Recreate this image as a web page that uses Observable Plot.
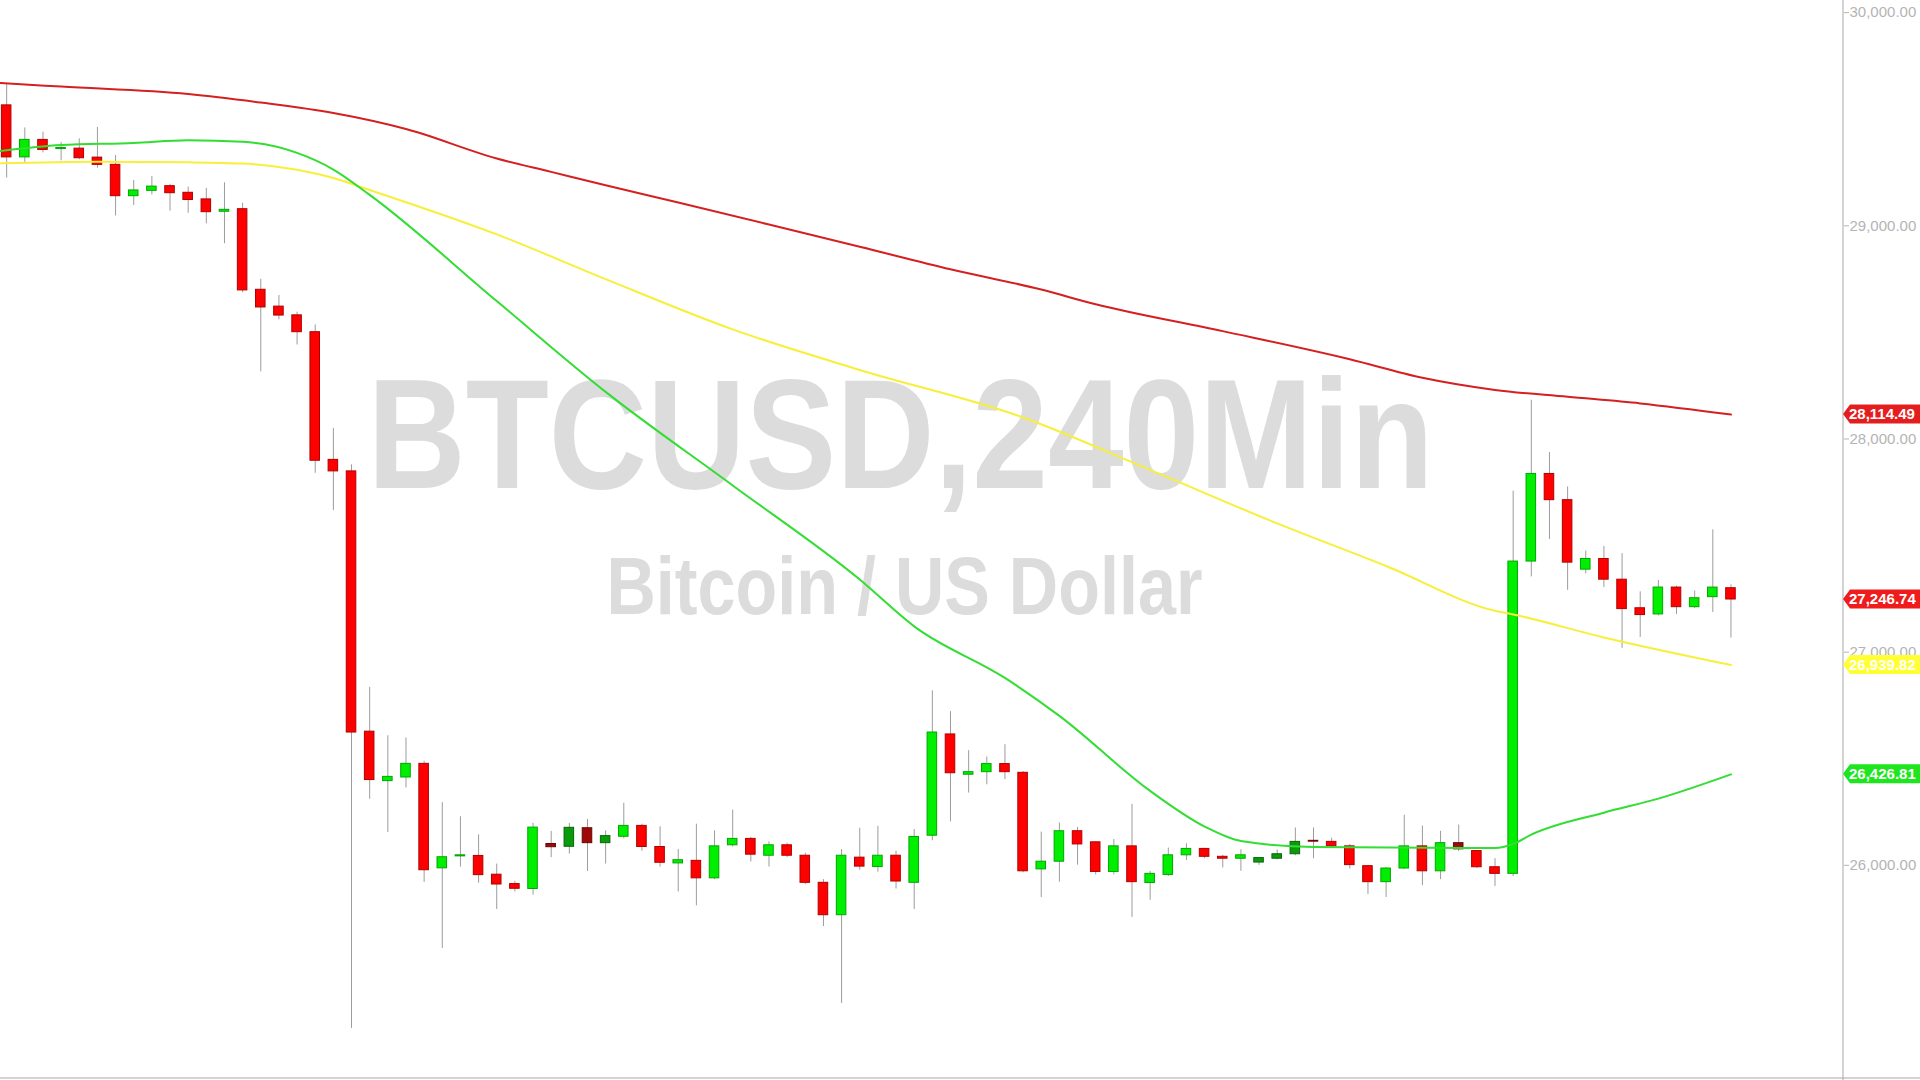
<!DOCTYPE html>
<html><head><meta charset="utf-8">
<script src="https://cdn.jsdelivr.net/npm/d3@7"></script>
<script src="https://cdn.jsdelivr.net/npm/@observablehq/plot@0.6"></script>
<style>html,body{margin:0;padding:0;background:#fff;overflow:hidden}</style>
</head><body><div id="chart"></div>
<script>
// ---- data (BTCUSD 240-minute candles) ----
const symbolTitle = "BTCUSD,240Min";
const symbolName = "Bitcoin / US Dollar";
const open  = [29565,29321,29403,29360,29362,29320,29286,29139,29164,29186,29155,29124,29066,29078,28700,28621,28580,28501,27902,27848,
               26627,26395,26412,26476,25986,26042,26044,25956,25912,25889,26100,26087,26174,26104,26134,26185,26086,26009,26021,25939,
               26094,26124,26045,26094,26045,25918,25766,26036,25992,26045,25918,26139,26614,26425,26437,26475,26434,25981,26017,26160,
               26108,25969,26089,25917,25955,26047,26077,26040,26031,26013,26031,26052,26115,26110,26089,25996,25921,25985,26089,25972,
               26104,26067,25991,25960,27425,27836,27713,27387,27437,27340,27206,27177,27303,27211,27258,27300];
const high  = [29664,29459,29439,29391,29408,29461,29330,29213,29232,29195,29182,29176,29202,29106,28749,28673,28595,28535,28050,27879,
               26835,26608,26597,26488,26294,26228,26143,26006,25925,26197,26159,26196,26215,26162,26291,26193,26181,26074,26193,26162,
               26259,26132,26110,26104,26057,25933,26074,26174,26183,26066,26168,26819,26721,26538,26508,26566,26440,26156,26199,26178,
               26110,26121,26286,25972,26081,26101,26080,26047,26073,26036,26072,26175,26175,26127,26098,26000,25990,26235,26184,26160,
               26189,26070,26031,27755,28182,27936,27775,27474,27496,27462,27283,27336,27310,27287,27574,27316];
const low   = [29224,29292,29342,29305,29310,29270,29046,29095,29145,29069,29059,29009,28916,28686,28315,28559,28441,27839,27664,25235,
               26310,26154,26363,25920,25610,25992,25916,25793,25875,25860,26036,26053,25971,26006,26124,26066,25992,25875,25810,25933,
               26086,26016,25992,26036,25910,25713,25352,25977,25968,25889,25793,26115,26204,26339,26378,26402,25965,25849,25921,26001,
               25955,25955,25756,25836,25947,26023,26031,25988,25972,26000,26025,26045,26031,26080,25983,25863,25849,25980,25905,25933,
               26065,25985,25901,25947,27353,27529,27290,27367,27303,27018,27069,27170,27177,27205,27186,27066];
const close = [29321,29403,29356,29365,29317,29286,29139,29166,29184,29153,29121,29064,29075,28697,28617,28579,28501,27898,27848,26623,
               26400,26415,26476,25977,26038,26047,25954,25910,25890,26177,26085,26176,26104,26137,26185,26086,26012,26024,25939,26089,
               26124,26050,26094,26045,25918,25766,26045,25994,26045,25924,26133,26623,26432,26437,26475,26437,25972,26017,26160,26098,
               25969,26089,25921,25960,26047,26077,26040,26031,26047,26034,26052,26110,26111,26089,26001,25921,25985,26089,25972,26104,
               26075,25991,25960,27425,27836,27713,27420,27437,27340,27202,27174,27303,27211,27253,27303,27247];
const dimBars = [30,31,32,33,69,70,71,72,80];
// moving averages: [bar index, price]
const ma200 = [[-0.34,29670],[3,29653],[10,29618],[14,29578],[18,29529],[22,29454],[27,29316],[30,29253],[33,29190],[37,29109],
               [42,29006],[47,28902],[52,28796],[57,28701],[60,28632],[67,28506],[74,28374],[78,28287],[82,28230],[86,28198],[90,28167],[95,28114.49]];
const ma100 = [[-0.34,29293],[5,29301],[10,29298],[13,29292],[16,29263],[18,29224],[20,29168],[27,28960],[33,28750],[40,28514],
               [47,28324],[56,28101],[63,27855],[70,27604],[76,27404],[82,27194],[83,27177],[88,27069],[95,26939.82]];
const ma50  = [[-0.34,29351],[3,29379],[7,29389],[10,29402],[13,29394],[16,29342],[18,29264],[20,29145],[27,28647],[33,28221],
               [40,27782],[47,27341],[50,27121],[55,26879],[58,26701],[63,26349],[66,26182],[68,26114],[72,26086],[82,26081],
               [83,26100],[84,26144],[88,26247],[91,26313],[95,26426.81]];
const yTicks = [26000, 27000, 28000, 29000, 30000];
const lastPrice = 27246.74;
const tagValues = {ma200: 28114.49, last: lastPrice, ma100: 26939.82, ma50: 26426.81};

// ---- build ----
const candles = open.map((o, i) => ({i, o, h: high[i], l: low[i], c: close[i], up: close[i] >= o, dim: dimBars.includes(i)}));
const bodyFill = d => d.dim ? (d.up ? "#0b9a0b" : "#9c0a0a") : (d.up ? "#00ee00" : "#ff0000");
const bodyStroke = d => d.dim ? (d.up ? "#066806" : "#6a0505") : (d.up ? "#00a800" : "#b00000");
const tagColors = {ma200: "#e41e1e", last: "#ee1c1c", ma100: "#ffff33", ma50: "#1ee61e"};
const fmt = d3.format(",.2f");
const wmFont = "'Liberation Sans',Arial,sans-serif";

function sidePanel(index, scales, values, dimensions) {
  const {width, height, marginRight} = dimensions;
  const x0 = width - marginRight;
  const g = d3.create("svg:g");
  g.append("line").attr("x1", x0).attr("x2", x0).attr("y1", 0).attr("y2", height).attr("stroke", "#a8a8a8");
  const yb = scales.y(25000);
  g.append("line").attr("x1", 0).attr("x2", width).attr("y1", yb).attr("y2", yb).attr("stroke", "#a8a8a8");
  for (const [k, v] of Object.entries(tagValues)) {
    const y = scales.y(v), h = 9.5;
    g.append("path")
      .attr("d", `M${x0},${y}L${x0 + 7},${y - h}L${width},${y - h}L${width},${y + h}L${x0 + 7},${y + h}Z`)
      .attr("fill", tagColors[k]);
    g.append("text").attr("x", x0 + 6).attr("y", y).attr("dy", "0.36em").attr("text-anchor", "start")
      .attr("fill", "#fff").attr("font-weight", "bold").attr("font-size", 15)
      .attr("font-family", "'Liberation Sans',Arial,sans-serif").text(fmt(v));
  }
  return g.node();
}

const chart = Plot.plot({
  width: 1920, height: 1080,
  marginLeft: 0, marginRight: 77, marginTop: 0, marginBottom: 2,
  style: {background: "#fff", fontFamily: "'Liberation Sans',Arial,sans-serif"},
  x: {type: "linear", domain: [-0.34, 101.2], axis: null},
  y: {domain: [25000, 30057], axis: null},
  marks: [
    Plot.text([symbolTitle], {frameAnchor: "top-left", dx: 900, dy: 487, lineAnchor: "bottom", textAnchor: "middle",
      fontSize: 156, fontWeight: "bold", fill: "#dcdcdc", fontFamily: wmFont}),
    Plot.text([symbolName], {frameAnchor: "top-left", dx: 904, dy: 613, lineAnchor: "bottom", textAnchor: "middle",
      fontSize: 82, fontWeight: "bold", fill: "#dcdcdc", fontFamily: wmFont}),
    Plot.ruleX(candles, {x: "i", y1: "l", y2: "h", stroke: "#9c9c9c", strokeWidth: 1}),
    Plot.rect(candles, {x1: d => d.i - 0.5, x2: d => d.i + 0.5, y1: "o", y2: "c", insetLeft: 4.3, insetRight: 4.3,
      fill: bodyFill, stroke: bodyStroke, strokeWidth: 1}),
    Plot.line(ma200, {x: d => d[0], y: d => d[1], stroke: "#d42020", strokeWidth: 2, curve: "monotone-x"}),
    Plot.line(ma100, {x: d => d[0], y: d => d[1], stroke: "#f7ef3a", strokeWidth: 2, curve: "monotone-x"}),
    Plot.line(ma50,  {x: d => d[0], y: d => d[1], stroke: "#33dd33", strokeWidth: 2, curve: "monotone-x"}),
    Plot.axisY(yTicks, {anchor: "right", tickFormat: fmt, tickSize: 5, tickPadding: 1, fontSize: 15,
      color: "#b4b4b4", textAnchor: "start"}),
    sidePanel
  ]
});
// condense the watermark texts to the width they take in the picture
d3.select(chart).selectAll("text").each(function() {
  const t = this.textContent;
  if (t === symbolTitle) d3.select(this).attr("textLength", 1066).attr("lengthAdjust", "spacingAndGlyphs");
  if (t === symbolName) d3.select(this).attr("textLength", 596).attr("lengthAdjust", "spacingAndGlyphs");
});
document.getElementById("chart").appendChild(chart);
</script>
</body></html>
